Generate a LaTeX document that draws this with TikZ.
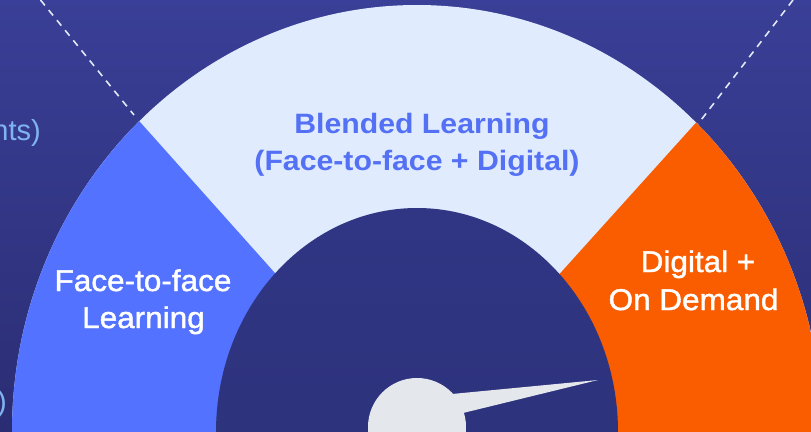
\documentclass[tikz,border=0pt]{standalone}
\usepackage{fontspec}
\setmainfont{Liberation Sans}
\newfontfamily\blendfont[FakeStretch=1.08]{Liberation Sans}
\newfontfamily\medfont[FakeStretch=1.05,FakeBold=1.4]{Liberation Sans}
\newfontfamily\sidefont{Liberation Sans}
\definecolor{bgtop}{RGB}{58,63,151}
\definecolor{bgbot}{RGB}{43,45,115}
\definecolor{innertop}{RGB}{48,54,132}
\definecolor{innerbot}{RGB}{44,47,118}
\definecolor{lightseg}{RGB}{224,236,253}
\definecolor{blueseg}{RGB}{82,114,255}
\definecolor{orangeseg}{RGB}{250,92,0}
\definecolor{needlec}{RGB}{228,232,236}
\definecolor{blendtxt}{RGB}{84,112,245}
\definecolor{sidetxt}{RGB}{128,180,240}
\definecolor{dashc}{RGB}{225,232,248}
\tikzset{
  blendstyle/.style={inner sep=0pt, text=blendtxt, font=\blendfont\bfseries\fontsize{28}{34}\selectfont},
  whitestyle/.style={inner sep=0pt, text=white, font=\medfont\fontsize{30}{36}\selectfont},
  sidestyle/.style={inner sep=0pt, text=sidetxt, font=\sidefont\fontsize{29}{35}\selectfont},
  dashline/.style={draw=dashc, line width=1.6pt, dash pattern=on 7pt off 6pt}
}
\begin{document}
\begin{tikzpicture}[x=1pt,y=-1pt]
\useasboundingbox (0,0) rectangle (811,431);
\clip (0,0) rectangle (811,431);
\shade[top color=bgtop,bottom color=bgbot] (0,0) rectangle (811,431);
\coordinate (C) at (417,432);
% outer gauge
\fill[lightseg] (C) ellipse [x radius=405pt, y radius=427pt];
\begin{scope}
  \clip (C) ellipse [x radius=405pt, y radius=427pt];
  \fill[blueseg] (C) -- (-131.6,-182) -- (-300,-182) -- (-300,440) -- cycle;
  \fill[orangeseg] (C) -- (969,-180) -- (1100,-180) -- (1100,440) -- cycle;
\end{scope}
% inner dial
\shade[top color=innertop,bottom color=innerbot] (C) ellipse [x radius=201pt, y radius=224pt];
% needle
\coordinate (H) at (417,427);
\coordinate (nu) at (452,394);
\coordinate (tip) at (598,380);
\coordinate (nl) at (463,413);
\fill[needlec] (H) circle (49pt);
\fill[needlec] (nu) -- (tip) -- (nl) -- (H) -- cycle;
% dashed guide lines
\coordinate (dl1) at (40.5,0);
\coordinate (dl2) at (134,115);
\coordinate (dr1) at (793,0);
\coordinate (dr2) at (698,124);
\draw[dashline] (dl1) -- (dl2);
\draw[dashline] (dr1) -- (dr2);
% labels
\node[blendstyle, anchor=base] (bl1) at (422,133) {Blended Learning};
\node[blendstyle, anchor=base] (bl2) at (417,170) {(Face-to-face + Digital)};
\node[whitestyle, anchor=base] (ff1) at (143,291) {Face-to-face};
\node[whitestyle, anchor=base] (ff2) at (143.5,328) {Learning};
\node[whitestyle, anchor=base] (dg1) at (698,272) {Digital +};
\node[whitestyle, anchor=base] (dg2) at (693.5,310) {On Demand};
\node[sidestyle, anchor=base east] (s1) at (41,140) {nts)};
\node[sidestyle, anchor=base east] (s2) at (7,411) {)};
\end{tikzpicture}
\end{document}
